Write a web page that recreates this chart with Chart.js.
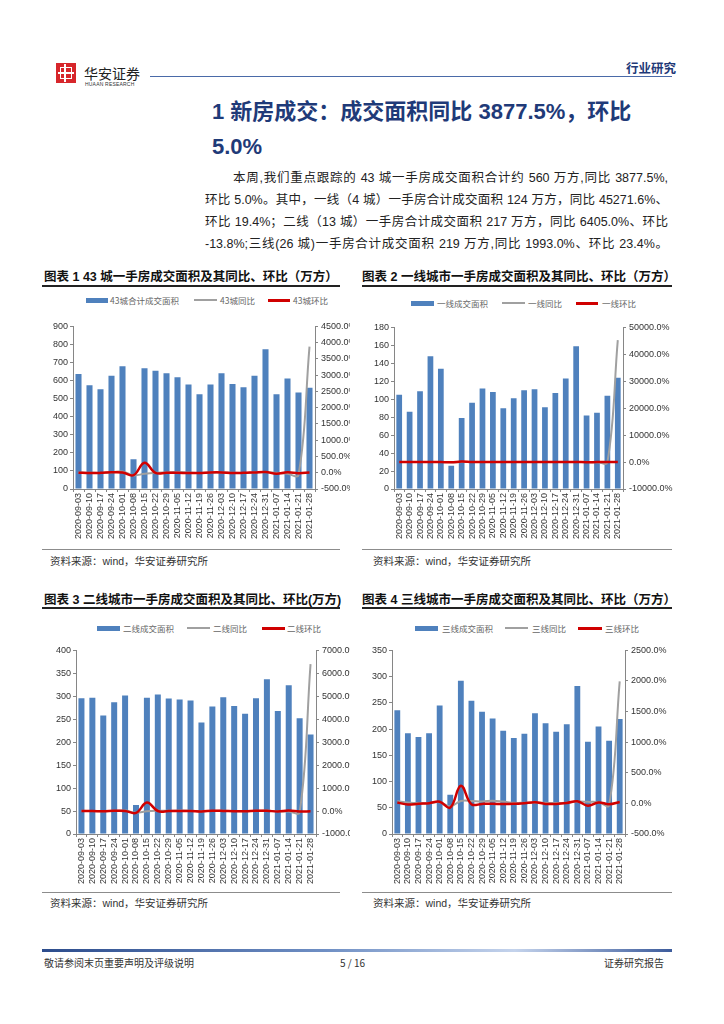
<!DOCTYPE html>
<html><head><meta charset="utf-8">
<script src="https://cdn.jsdelivr.net/npm/chart.js@4.4.1/dist/chart.umd.min.js"></script>
<style>
body{margin:0;background:#fff;}
#page{position:relative;width:724px;height:1024px;overflow:hidden;background:#fff;font-family:"Liberation Sans","Noto Sans CJK SC",sans-serif;color:#222;}
.a{position:absolute;white-space:nowrap;}
.title{font-weight:700;font-size:22px;color:#1f3a78;}
.para{left:205px;width:463px;font-size:12.5px;color:#222;text-align:justify;text-align-last:justify;}
.ct{font-family:"Liberation Sans","Noto Sans CJK SC",sans-serif;font-weight:700;font-size:12.5px;color:#111;}
.rule{position:absolute;height:1.5px;background:#222;}
.srule{position:absolute;height:1px;background:#8c8c8c;}
.src{font-size:10.5px;color:#333;}
.lg{position:absolute;font-size:8.5px;color:#666;font-family:"Noto Sans CJK SC",sans-serif;white-space:nowrap;}
.sw{position:absolute;}
.box{position:absolute;overflow:hidden;}
.foot{font-size:10px;color:#333;font-family:"Noto Sans CJK SC",sans-serif;}
</style>
</head><body>
<div id="page">
  <!-- header -->
  <div class="a" style="left:56px;top:63px;width:20px;height:20px;background:#d7262b;"></div>
  <div class="a" style="left:60px;top:67px;width:10px;height:10px;border:1.5px solid #fff;"></div>
  <div class="a" style="left:64px;top:64px;width:2px;height:18px;background:#fff;"></div>
  <div class="a" style="left:58px;top:72px;width:16px;height:1.5px;background:#fff;"></div>
  <div class="a" style="left:84px;top:63px;font-size:14px;color:#222;font-family:'Noto Sans CJK SC';">华安证券</div>
  <div class="a" style="left:85px;top:81px;font-size:5px;color:#333;letter-spacing:0.2px;">HUAAN RESEARCH</div>
  <div class="a" style="left:150px;top:76px;width:522px;height:1px;background:#4a6aa8;"></div>
  <div class="a" style="left:626px;top:58px;font-size:12.5px;font-weight:700;color:#1f3a78;font-family:'Noto Sans CJK SC';">行业研究</div>

  <div class="a title" style="left:212px;top:93px;">1 新房成交：成交面积同比 3877.5%，环比</div>
  <div class="a title" style="left:212px;top:134px;">5.0%</div>

  <div class="a para" style="top:167px;left:233px;width:435px;">本周,我们重点跟踪的 43 城一手房成交面积合计约 560 万方,同比 3877.5%,</div>
  <div class="a para" style="top:189px;">环比 5.0%。其中，一线（4 城）一手房合计成交面积 124 万方，同比 45271.6%、</div>
  <div class="a para" style="top:211px;">环比 19.4%；二线（13 城）一手房合计成交面积 217 万方，同比 6405.0%、环比</div>
  <div class="a para" style="top:233px;">-13.8%;三线(26 城)一手房合计成交面积 219 万方,同比 1993.0%、环比 23.4%。</div>

  <!-- chart titles row 1 -->
  <div class="a ct" style="left:44px;top:266px;">图表 1 43 城一手房成交面积及其同比、环比（万方）</div>
  <div class="a ct" style="left:362px;top:266px;">图表 2 一线城市一手房成交面积及其同比、环比（万方）</div>
  <div class="rule" style="left:42px;top:285px;width:298px;"></div>
  <div class="rule" style="left:362px;top:285px;width:310px;"></div>

  <!-- legends row 1 -->
  <div class="sw" style="left:86px;top:298px;width:22px;height:5px;background:#4f81bd;"></div>
  <div class="lg" style="left:110px;top:294px;">43城合计成交面积</div>
  <div class="sw" style="left:194px;top:299px;width:23px;height:2px;background:#a0a0a0;"></div>
  <div class="lg" style="left:220px;top:294px;">43城同比</div>
  <div class="sw" style="left:268px;top:299px;width:22px;height:3px;background:#d00000;"></div>
  <div class="lg" style="left:293px;top:294px;">43城环比</div>

  <div class="sw" style="left:411px;top:301px;width:23px;height:5px;background:#4f81bd;"></div>
  <div class="lg" style="left:437px;top:297px;">一线成交面积</div>
  <div class="sw" style="left:502px;top:302px;width:23px;height:2px;background:#a0a0a0;"></div>
  <div class="lg" style="left:528px;top:297px;">一线同比</div>
  <div class="sw" style="left:576px;top:302px;width:22px;height:3px;background:#d00000;"></div>
  <div class="lg" style="left:602px;top:297px;">一线环比</div>

  <div class="box" style="left:40px;top:318px;width:310px;height:230px;"><canvas id="c1" width="330" height="230"></canvas></div>
  <div class="box" style="left:360px;top:319px;width:320px;height:230px;"><canvas id="c2" width="320" height="230"></canvas></div>

  <div class="srule" style="left:42px;top:549px;width:298px;"></div>
  <div class="srule" style="left:362px;top:549px;width:310px;"></div>
  <div class="a src" style="left:50px;top:553px;">资料来源：wind，华安证券研究所</div>
  <div class="a src" style="left:373px;top:553px;">资料来源：wind，华安证券研究所</div>

  <!-- chart titles row 2 -->
  <div class="a ct" style="left:44px;top:589px;">图表 3 二线城市一手房成交面积及其同比、环比(万方)</div>
  <div class="a ct" style="left:362px;top:589px;">图表 4 三线城市一手房成交面积及其同比、环比（万方）</div>
  <div class="rule" style="left:42px;top:607px;width:298px;"></div>
  <div class="rule" style="left:362px;top:607px;width:310px;"></div>

  <div class="sw" style="left:97px;top:626px;width:23px;height:5px;background:#4f81bd;"></div>
  <div class="lg" style="left:123px;top:622px;">二线成交面积</div>
  <div class="sw" style="left:187px;top:627px;width:23px;height:2px;background:#a0a0a0;"></div>
  <div class="lg" style="left:213px;top:622px;">二线同比</div>
  <div class="sw" style="left:262px;top:627px;width:23px;height:3px;background:#d00000;"></div>
  <div class="lg" style="left:287px;top:622px;">二线环比</div>

  <div class="sw" style="left:415px;top:626px;width:23px;height:5px;background:#4f81bd;"></div>
  <div class="lg" style="left:442px;top:622px;">三线成交面积</div>
  <div class="sw" style="left:505px;top:627px;width:23px;height:2px;background:#a0a0a0;"></div>
  <div class="lg" style="left:532px;top:622px;">三线同比</div>
  <div class="sw" style="left:578px;top:627px;width:24px;height:3px;background:#d00000;"></div>
  <div class="lg" style="left:605px;top:622px;">三线环比</div>

  <div class="box" style="left:40px;top:642px;width:310px;height:250px;"><canvas id="c3" width="330" height="250"></canvas></div>
  <div class="box" style="left:360px;top:642px;width:320px;height:250px;"><canvas id="c4" width="320" height="250"></canvas></div>

  <div class="srule" style="left:42px;top:892px;width:298px;"></div>
  <div class="srule" style="left:362px;top:892px;width:310px;"></div>
  <div class="a src" style="left:50px;top:895px;">资料来源：wind，华安证券研究所</div>
  <div class="a src" style="left:373px;top:895px;">资料来源：wind，华安证券研究所</div>

  <!-- footer -->
  <div class="a" style="left:42px;top:949px;width:630px;height:3px;background:linear-gradient(to right,#2c4c8c 0%,#6f8fc4 45%,#c4d3ec 75%,#3d5c9c 100%);"></div>
  <div class="a foot" style="left:44px;top:955px;">敬请参阅末页重要声明及评级说明</div>
  <div class="a foot" style="left:340px;top:955px;">5 / 16</div>
  <div class="a foot" style="left:604px;top:955px;">证券研究报告</div>
</div>
<script>
const dates = ['2020-09-03','2020-09-10','2020-09-17','2020-09-24','2020-10-01','2020-10-08','2020-10-15','2020-10-22','2020-10-29','2020-11-05','2020-11-12','2020-11-19','2020-11-26','2020-12-03','2020-12-10','2020-12-17','2020-12-24','2020-12-31','2021-01-07','2021-01-14','2021-01-21','2021-01-28'];

const area43 = [637,574,552,627,680,164,669,654,641,619,578,525,579,640,581,563,627,774,525,612,534,560];
const yoy43  = [5,0,-5,10,40,-80,-30,0,10,20,5,-5,5,10,0,-5,5,20,0,-30,-70,3877.5];
const mom43  = [3,-10,-4,14,8,-76,308,-2,-2,-3,-7,-9,10,11,-9,-3,11,23,-32,17,-13,5.0];

const areaT1 = [105,86,109,148,134,26,79,96,112,108,90,101,110,111,91,107,123,159,82,85,104,124];
const yoyT1  = [20,-10,30,60,40,-70,-20,10,30,20,5,10,20,30,-10,10,40,60,-20,-30,-90,45271.6];
const momT1  = [5,-18,27,36,-9,-81,204,22,17,-4,-17,12,9,1,-18,18,15,29,-48,4,22,19.4];

const areaT2 = [296,297,258,287,302,63,297,304,295,293,291,243,278,298,279,262,296,337,268,324,252,217];
const yoyT2  = [10,0,-5,10,20,-70,-10,10,10,20,15,-10,5,10,0,-5,10,20,-10,-20,-60,6405.0];
const momT2  = [2,0,-13,11,5,-79,371,2,-3,-1,-1,-16,14,7,-6,-6,13,14,-20,21,-22,-13.8];

const areaT3 = [236,192,185,192,245,75,292,254,233,220,197,183,191,230,211,195,209,282,176,205,178,219];
const yoyT3  = [35,15,5,5,20,-50,40,40,30,45,30,10,10,15,10,5,10,30,25,20,-30,1993.0];
const momT3  = [15,-19,-4,4,28,-69,289,-13,-8,-6,-10,-7,4,20,-8,-8,7,35,-38,16,-13,23.4];

const leftAxes  = [[900,100],[180,20],[400,50],[350,50]];
const rightAxes = [[-500,4500,500],[-10000,50000,10000],[-1000,7000,1000],[-500,2500,500]];

const BLUE='#4f81bd', GRAY='#a0a0a0', RED='#d00000', AXIS='#868686';
const tickFont = {family:'"Liberation Sans", Arial, sans-serif', size:9};

function build(id, bars, yoy, mom, left, right, lw, rw, xh){
  new Chart(document.getElementById(id), {
    type:'bar',
    data:{labels:dates, datasets:[
      {type:'line', data:mom, yAxisID:'y1', borderColor:RED, borderWidth:2.5, pointRadius:0, tension:0.4, order:0},
      {type:'line', data:yoy, yAxisID:'y1', borderColor:GRAY, borderWidth:2, pointRadius:0, tension:0.4, order:1},
      {type:'bar', data:bars, yAxisID:'y', backgroundColor:BLUE, categoryPercentage:1, barPercentage:0.55, order:2}
    ]},
    options:{
      responsive:false, animation:false, maintainAspectRatio:false,
      layout:{padding:{top:6,left:0,right:0,bottom:0}},
      plugins:{legend:{display:false}, tooltip:{enabled:false}},
      scales:{
        x:{grid:{drawOnChartArea:false, drawTicks:true, tickLength:3, color:AXIS}, border:{color:AXIS},
           ticks:{font:tickFont, color:'#333', autoSkip:false, minRotation:90, maxRotation:90, padding:1},
           afterFit:s=>{s.height=xh;}},
        y:{position:'left', min:0, max:left[0], grid:{drawOnChartArea:false, tickLength:3, color:AXIS}, border:{color:AXIS},
           ticks:{stepSize:left[1], font:tickFont, color:'#333', padding:2},
           afterFit:s=>{s.width=lw;}},
        y1:{position:'right', min:right[0], max:right[1], grid:{drawOnChartArea:false, tickLength:3, color:AXIS}, border:{color:AXIS},
           ticks:{stepSize:right[2], font:tickFont, color:'#333', padding:3, callback:v=>Number(v).toFixed(1)+'%'},
           afterFit:s=>{s.width=rw;}}
      }
    }
  });
}
build('c1', area43, yoy43, mom43, leftAxes[0], rightAxes[0], 33, 55, 59);
build('c2', areaT1, yoyT1, momT1, leftAxes[1], rightAxes[1], 34, 57, 60);
build('c3', areaT2, yoyT2, momT2, leftAxes[2], rightAxes[2], 36, 54, 58);
build('c4', areaT3, yoyT3, momT3, leftAxes[3], rightAxes[3], 32, 55, 58);
</script>
</body></html>
